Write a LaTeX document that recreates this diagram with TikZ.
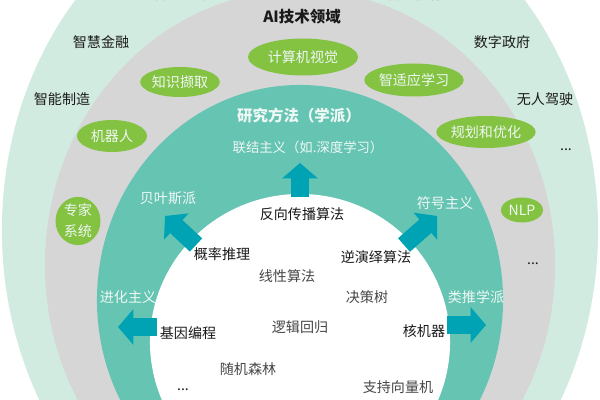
\documentclass[tikz,border=0pt]{standalone}
\usepackage{fontspec}
\setmainfont{Noto Sans CJK SC}
\usetikzlibrary{arrows.meta,shapes.geometric}
\definecolor{outerg}{RGB}{210,235,225}
\definecolor{grayr}{RGB}{214,214,214}
\definecolor{tealr}{RGB}{102,196,179}
\definecolor{arrowc}{RGB}{0,163,180}
\definecolor{leafg}{RGB}{132,194,66}
\definecolor{softw}{RGB}{238,248,244}
\definecolor{darkt}{RGB}{25,25,25}
\definecolor{lightt}{RGB}{70,70,70}
\begin{document}
\begin{tikzpicture}[x=0.025cm,y=-0.025cm,
  every node/.style={inner sep=0pt},
  outertxt/.style={font=\fontsize{10}{12}\selectfont, text=darkt},
  title/.style={font=\fontsize{11}{13}\selectfont\bfseries},
  leaf/.style 2 args={ellipse, fill=leafg, text=softw, font=\fontsize{10}{12}\selectfont,
      minimum width=#1*0.025cm, minimum height=#2*0.025cm},
  school/.style={font=\fontsize{10}{12}\selectfont, text=softw},
  algo/.style={font=\fontsize{10}{12}\selectfont, text=darkt},
  algolight/.style={font=\fontsize{10}{12}\selectfont, text=lightt},
  blockarrow/.style={draw=arrowc, line width=12.8pt, -{Triangle[width=25pt,length=11pt]}}
]
\useasboundingbox (0,0) rectangle (600,400);
\clip (0,0) rectangle (600,400);
\fill[white] (0,0) rectangle (600,400);
% rings
\fill[outerg] (300,230) ellipse [x radius=7.45cm, y radius=8.75cm];
\fill[grayr] (300,265) ellipse [x radius=6.375cm, y radius=6.875cm];
\fill[tealr] (300,300) ellipse [x radius=5.075cm, y radius=5.375cm];
\fill[white] (300,342) ellipse [x radius=3.75cm, y radius=3.7cm];

% outer ring: application fields
\node[outertxt] (cutl) at (182,-6) {智慧医疗};
\node[outertxt] (cutr) at (415,-6) {智慧教育};
\node[outertxt] (fin) at (101,42) {智慧金融};
\node[outertxt] (mfg) at (62,99) {智能制造};
\node[outertxt] (gov) at (502,42) {数字政府};
\node[outertxt] (drive) at (545,99) {无人驾驶};
\node[outertxt] (odots) at (566,150) {...};

% gray ring: AI technology fields
\node[title, text=darkt] (aitech) at (302,17) {AI技术领域};
\node[leaf={110}{37}] (cv) at (303,57) {计算机视觉};
\node[leaf={73}{30}] (ke) at (180,82) {知识撷取};
\node[leaf={85}{33}] (al) at (414,80) {智适应学习};
\node[leaf={70}{32}] (robot) at (112,136) {机器人};
\node[leaf={80}{32}] (plan) at (486,132) {规划和优化};
\node[leaf={45}{48}, align=center, font=\fontsize{10}{15}\selectfont] (expert) at (78,221) {专家\\系统};
\node[leaf={42}{25}] (nlp) at (522,210) {NLP};
\node[outertxt] (gdots) at (533,264) {...};

% teal ring: schools
\node[title, text=softw] (method) at (299,116) {研究方法（学派）};
\node[school, font=\fontsize{9.5}{12}\selectfont] (conn) at (308,147) {联结主义（如.深度学习）};
\node[school] (bayes) at (168,198) {贝叶斯派};
\node[school] (symb) at (445,203) {符号主义};
\node[school] (evo) at (128,297) {进化主义};
\node[school] (analog) at (476,297) {类推学派};

% arrows
\coordinate (aupT) at (300,197);
\coordinate (aupH) at (300,163);
\coordinate (aulT) at (196,245);
\coordinate (aulH) at (165,216);
\coordinate (aurT) at (404,245);
\coordinate (aurH) at (437,216);
\coordinate (alT) at (157,327);
\coordinate (alH) at (118,327);
\coordinate (arT) at (447,325);
\coordinate (arH) at (486,325);
\draw[blockarrow] (aupT) -- (aupH);
\draw[blockarrow] (aulT) -- (aulH);
\draw[blockarrow] (aurT) -- (aurH);
\draw[blockarrow] (alT) -- (alH);
\draw[blockarrow] (arT) -- (arH);

% white core: algorithms
\node[algo] (bp) at (302,214) {反向传播算法};
\node[algo] (prob) at (222,254) {概率推理};
\node[algo] (inv) at (376,257) {逆演绎算法};
\node[algolight] (lin) at (287,276) {线性算法};
\node[algolight] (tree) at (367,297) {决策树};
\node[algolight] (logit) at (300,327) {逻辑回归};
\node[algo] (gp) at (188,333) {基因编程};
\node[algo] (kern) at (424,331) {核机器};
\node[algolight] (rf) at (248,369) {随机森林};
\node[algolight] (svm) at (398,387) {支持向量机};
\node[algo] (wdots) at (183,390) {...};
\end{tikzpicture}
\end{document}
